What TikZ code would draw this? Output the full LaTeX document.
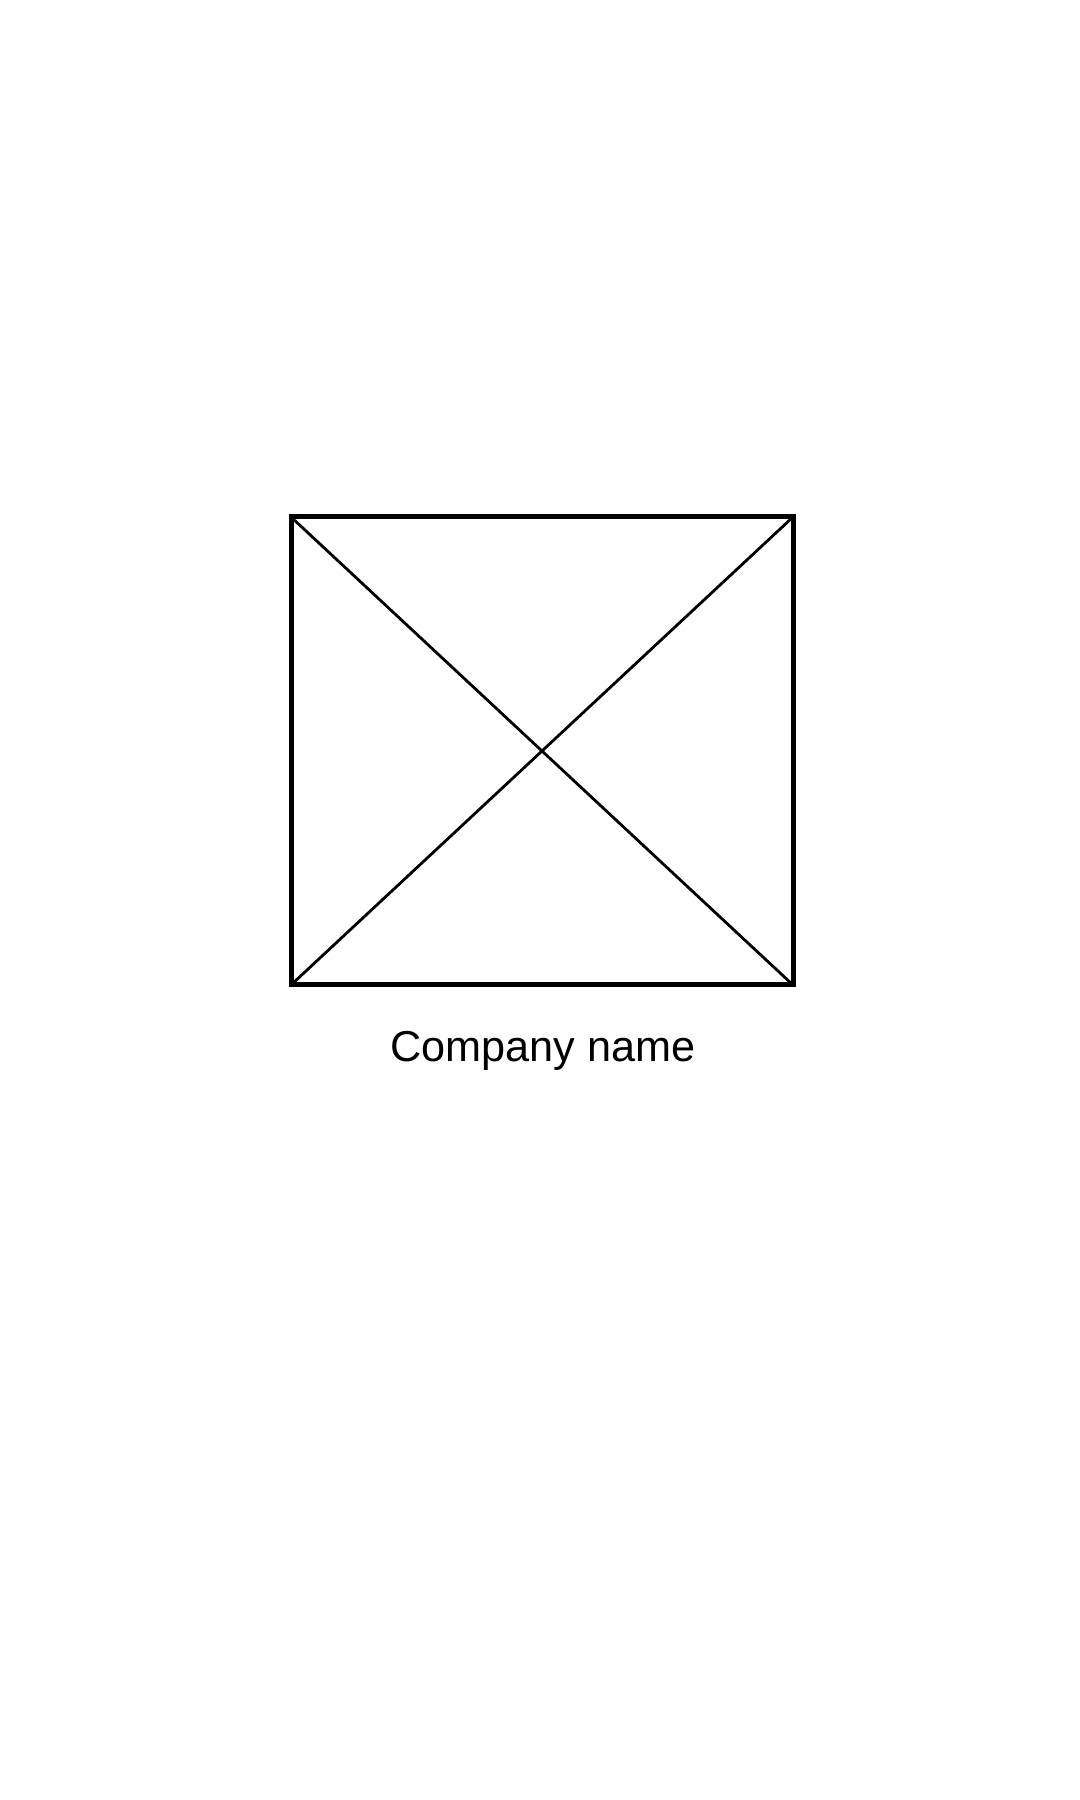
\documentclass[tikz,border=0pt]{standalone}
\usepackage{fontspec}
\setmainfont{Liberation Sans}
\usetikzlibrary{positioning}
\begin{document}
\begin{tikzpicture}
        % Marco de la pagina
        \useasboundingbox[fill=white] (0,0) rectangle (10.8,18);
        % Logo vacio
        \node[draw=black, line width=0.05cm, minimum width=5.02cm, minimum height=4.68cm, inner sep=0pt, outer sep=0pt] (logo) at (5.42,10.49) {};
        \draw[line width=0.028cm] (logo.north west) -- (logo.south east);
        \draw[line width=0.028cm] (logo.north east) -- (logo.south west);
        % Nombre
        \node[anchor=base, font=\fontsize{12.3pt}{14pt}\selectfont] (nombre) at (5.43,7.38) {Company name};
    \end{tikzpicture}
\end{document}
